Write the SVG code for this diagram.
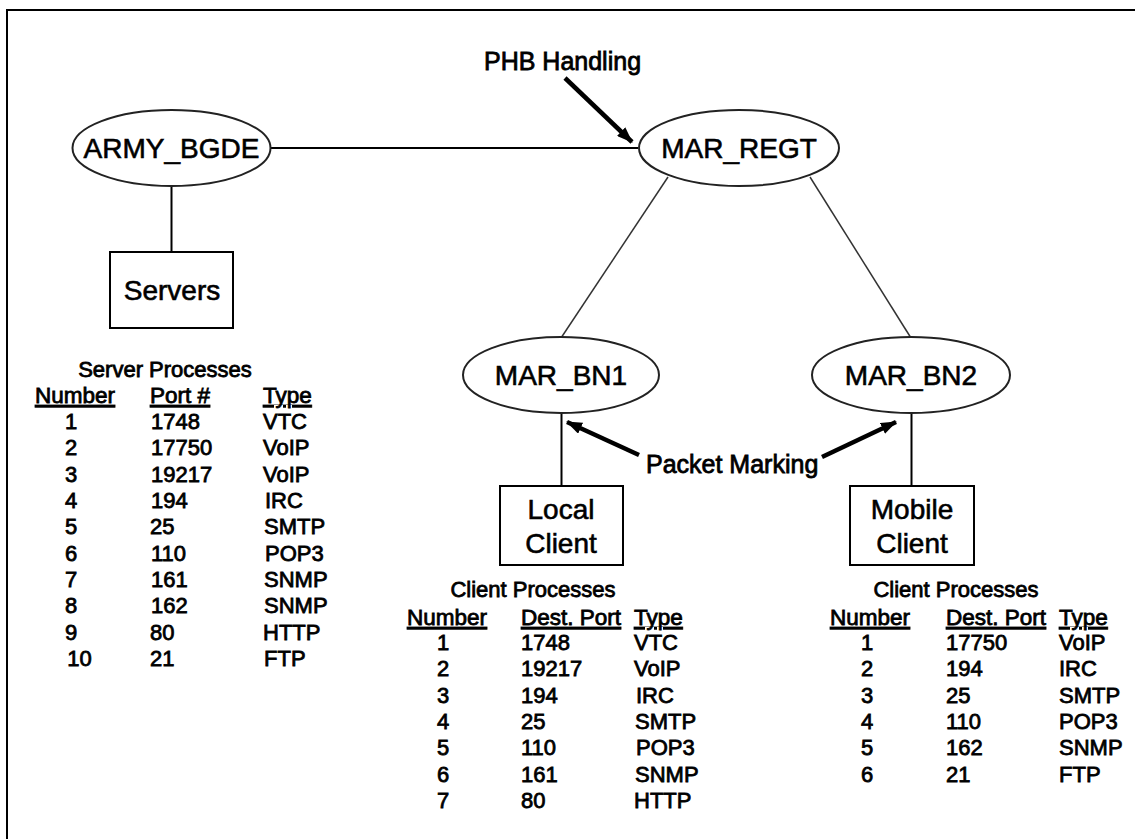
<svg xmlns="http://www.w3.org/2000/svg" width="1135" height="839" viewBox="0 0 1135 839">
<style>
text{font-family:"Liberation Sans",Arial,sans-serif;fill:#000;stroke:#000;stroke-width:.8}
.n{font-size:28px;text-anchor:middle;stroke-width:.6}
.h{font-size:22px;text-anchor:middle}
.t{font-size:22px}
.b{font-size:25px}
.c{font-size:22px;text-anchor:middle}
.u{text-decoration:underline;font-size:22.500px}
.s{fill:#fff;stroke:#000;stroke-width:2}
.e{fill:#fff;stroke:#222;stroke-width:2}
.l{stroke:#000;stroke-width:2;fill:none}
.g{stroke:#333;stroke-width:1.500;fill:none}
.a{stroke:#000;stroke-width:4.500;fill:none;marker-end:url(#ah)}
</style>
<defs><marker id="ah" markerWidth="16" markerHeight="12" refX="15" refY="6" orient="auto" markerUnits="userSpaceOnUse"><path d="M0 0L16 6L0 12Z" fill="#000"/></marker></defs>
<rect x="7" y="10" width="1128" height="829" fill="#fff"/>
<path d="M7 839V10H1135" fill="none" stroke="#000" stroke-width="2"/>
<g id="connectors">
<line class="l" x1="270" y1="148" x2="638" y2="148"/>
<line class="l" x1="171.500" y1="186" x2="171.500" y2="252"/>
<line class="g" x1="668" y1="177" x2="561" y2="338"/>
<line class="g" x1="810" y1="177" x2="911" y2="338"/>
<line class="l" x1="561.500" y1="412" x2="561.500" y2="486"/>
<line class="l" x1="911.500" y1="412" x2="911.500" y2="486"/>
<line class="a" x1="565" y1="78" x2="632" y2="142"/>
<line class="a" x1="639" y1="455" x2="567" y2="422"/>
<line class="a" x1="822" y1="457" x2="896" y2="422"/>
</g>
<g id="army"><ellipse class="e" cx="171.500" cy="148" rx="99" ry="38"/><text class="n" x="171.500" y="158">ARMY_BGDE</text></g>
<g id="regt"><ellipse class="e" cx="739" cy="148" rx="100" ry="38"/><text class="n" x="739" y="158">MAR_REGT</text></g>
<g id="bn1"><ellipse class="e" cx="561" cy="375" rx="98" ry="38"/><text class="n" x="561" y="385">MAR_BN1</text></g>
<g id="bn2"><ellipse class="e" cx="911" cy="375" rx="99" ry="38"/><text class="n" x="911" y="385">MAR_BN2</text></g>
<g id="servers"><rect class="s" x="110" y="252" width="123" height="76"/><text class="n" x="172" y="300">Servers</text></g>
<g id="local"><rect class="s" x="500" y="486" width="123" height="79"/><text class="n" x="561" y="519">Local</text><text class="n" x="561" y="553">Client</text></g>
<g id="mobile"><rect class="s" x="850" y="486" width="124" height="79"/><text class="n" x="912" y="519">Mobile</text><text class="n" x="912" y="553">Client</text></g>
<text class="b" x="484" y="70">PHB Handling</text>
<text class="b" x="646" y="473">Packet Marking</text>
<g id="server-table">
<text class="h" x="165" y="377">Server Processes</text>
<text class="t u" x="35" y="403">Number</text><text class="t u" x="150" y="403">Port #</text><text class="t u" x="263" y="403">Type</text>
<text class="c" x="71" y="429">1</text><text class="t" x="151" y="429">1748</text><text class="t" x="263" y="429">VTC</text>
<text class="c" x="71" y="455">2</text><text class="t" x="151" y="455">17750</text><text class="t" x="263" y="455">VoIP</text>
<text class="c" x="71" y="482">3</text><text class="t" x="151" y="482">19217</text><text class="t" x="263" y="482">VoIP</text>
<text class="c" x="71" y="508">4</text><text class="t" x="151" y="508">194</text><text class="t" x="265" y="508">IRC</text>
<text class="c" x="71" y="534">5</text><text class="t" x="150" y="534">25</text><text class="t" x="264" y="534">SMTP</text>
<text class="c" x="71" y="561">6</text><text class="t" x="151" y="561">110</text><text class="t" x="265" y="561">POP3</text>
<text class="c" x="71" y="587">7</text><text class="t" x="151" y="587">161</text><text class="t" x="264" y="587">SNMP</text>
<text class="c" x="71" y="613">8</text><text class="t" x="151" y="613">162</text><text class="t" x="264" y="613">SNMP</text>
<text class="c" x="71" y="640">9</text><text class="t" x="150" y="640">80</text><text class="t" x="263" y="640">HTTP</text>
<text class="c" x="79.500" y="666">10</text><text class="t" x="150" y="666">21</text><text class="t" x="264" y="666">FTP</text>
</g>
<g id="local-table">
<text class="h" x="533" y="597">Client Processes</text>
<text class="t u" x="407" y="625">Number</text><text class="t u" x="521" y="625">Dest. Port</text><text class="t u" x="634" y="625">Type</text>
<text class="c" x="443" y="650">1</text><text class="t" x="521" y="650">1748</text><text class="t" x="634" y="650">VTC</text>
<text class="c" x="443" y="676">2</text><text class="t" x="521" y="676">19217</text><text class="t" x="634" y="676">VoIP</text>
<text class="c" x="443" y="703">3</text><text class="t" x="521" y="703">194</text><text class="t" x="636" y="703">IRC</text>
<text class="c" x="443" y="729">4</text><text class="t" x="521" y="729">25</text><text class="t" x="635" y="729">SMTP</text>
<text class="c" x="443" y="755">5</text><text class="t" x="521" y="755">110</text><text class="t" x="636" y="755">POP3</text>
<text class="c" x="443" y="782">6</text><text class="t" x="521" y="782">161</text><text class="t" x="635" y="782">SNMP</text>
<text class="c" x="443" y="808">7</text><text class="t" x="521" y="808">80</text><text class="t" x="634" y="808">HTTP</text>
</g>
<g id="mobile-table">
<text class="h" x="956" y="597">Client Processes</text>
<text class="t u" x="830" y="625">Number</text><text class="t u" x="946" y="625">Dest. Port</text><text class="t u" x="1059" y="625">Type</text>
<text class="c" x="867" y="650">1</text><text class="t" x="946" y="650">17750</text><text class="t" x="1059" y="650">VoIP</text>
<text class="c" x="867" y="676">2</text><text class="t" x="946" y="676">194</text><text class="t" x="1059" y="676">IRC</text>
<text class="c" x="867" y="703">3</text><text class="t" x="946" y="703">25</text><text class="t" x="1059" y="703">SMTP</text>
<text class="c" x="867" y="729">4</text><text class="t" x="946" y="729">110</text><text class="t" x="1059" y="729">POP3</text>
<text class="c" x="867" y="755">5</text><text class="t" x="946" y="755">162</text><text class="t" x="1059" y="755">SNMP</text>
<text class="c" x="867" y="782">6</text><text class="t" x="946" y="782">21</text><text class="t" x="1059" y="782">FTP</text>
</g>
</svg>
